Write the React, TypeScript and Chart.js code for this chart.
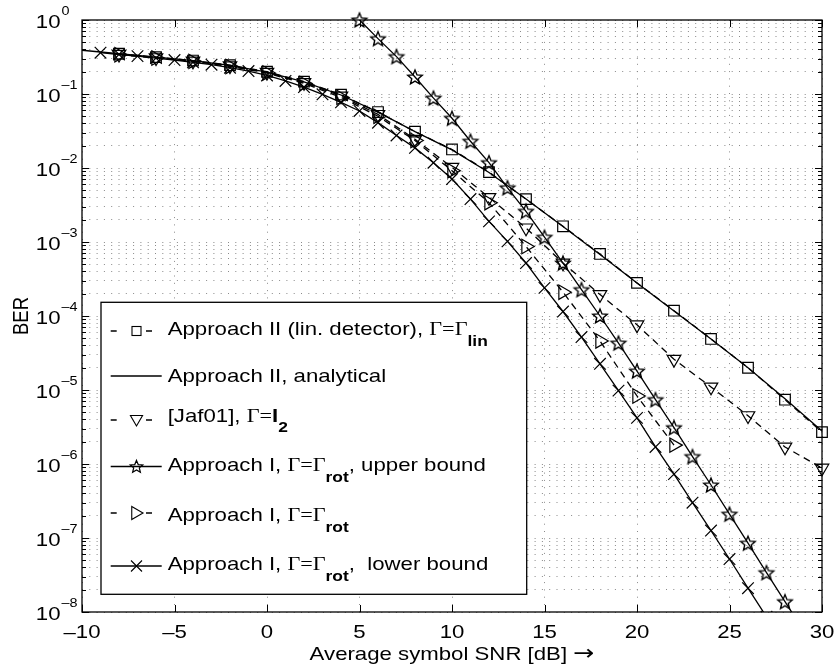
import React, { useEffect, useRef } from "react";
import { Chart, registerables } from "chart.js";

Chart.register(...registerables);

// ---------------- data ----------------
const SNR_EVEN = [-8, -6, -4, -2, 0, 2, 4, 6, 8, 10, 12, 14, 16, 18, 20, 22, 24, 26, 28, 30];
const BER_LIN_DETECTOR = [0.35, 0.315, 0.283, 0.245, 0.2, 0.147, 0.098, 0.057, 0.031, 0.0178, 0.0088, 0.0038, 0.00163, 0.00069, 0.00028, 0.000118, 0.000049, 0.00002, 0.0000074, 0.0000027];

const SNR_ANALYTICAL = [-10, -8, -6, -4, -2, 0, 2, 4, 6, 8, 10, 12, 14, 16, 18, 20, 22, 24, 26, 28, 30];
const BER_ANALYTICAL = [0.39, 0.35, 0.316, 0.282, 0.243, 0.198, 0.146, 0.097, 0.057, 0.031, 0.0176, 0.0087, 0.0038, 0.00162, 0.00068, 0.00028, 0.000117, 0.000049, 0.00002, 0.0000076, 0.0000028];

const BER_JAF01 = [0.345, 0.31, 0.279, 0.24, 0.196, 0.143, 0.094, 0.053, 0.0245, 0.0102, 0.004, 0.00155, 0.00052, 0.000195, 0.000076, 0.000026, 0.000011, 0.0000045, 0.0000017, 0.00000088];

const SNR_ROT = [-8, -6, -4, -2, 0, 2, 4, 6, 8, 10, 12, 14, 16, 18, 20, 22];
const BER_ROT = [0.34, 0.306, 0.276, 0.236, 0.192, 0.139, 0.09, 0.05, 0.0235, 0.0092, 0.0034, 0.00087, 0.00021, 0.000046, 0.0000083, 0.0000018];

const SNR_UPPER = [5, 6, 7, 8, 9, 10, 11, 12, 13, 14, 15, 16, 17, 18, 19, 20, 21, 22, 23, 24, 25, 26, 27, 28, 29];
const BER_UPPER = [1.0, 0.56, 0.32, 0.17, 0.088, 0.047, 0.023, 0.0118, 0.0054, 0.0026, 0.00116, 0.00052, 0.000227, 0.0001, 0.000043, 0.000018, 0.0000074, 0.0000031, 0.00000126, 0.00000052, 0.00000021, 0.000000085, 0.000000034, 0.0000000138, 0.0000000056];

const SNR_LOWER = [-9, -8, -7, -6, -5, -4, -3, -2, -1, 0, 1, 2, 3, 4, 5, 6, 7, 8, 9, 10, 11, 12, 13, 14, 15, 16, 17, 18, 19, 20, 21, 22, 23, 24, 25, 26, 27];
const BER_LOWER = [0.362, 0.342, 0.325, 0.306, 0.288, 0.268, 0.249, 0.227, 0.204, 0.178, 0.15, 0.124, 0.099, 0.077, 0.059, 0.041, 0.0275, 0.0187, 0.0118, 0.0071, 0.0038, 0.0019, 0.00102, 0.00052, 0.00024, 0.000115, 0.000052, 0.0000226, 0.0000098, 0.0000042, 0.0000017, 0.00000073, 0.0000003, 0.000000126, 0.000000052, 0.000000021, 0.0000000086];

const X_TICKS = [-10, -5, 0, 5, 10, 15, 20, 25, 30];
const X_TICK_LABELS = ["\u201310", "\u20135", "0", "5", "10", "15", "20", "25", "30"];
const Y_DECADES = [0, -1, -2, -3, -4, -5, -6, -7, -8];
const Y_MINOR_MULTIPLIERS = [2, 3, 4, 5, 6, 7, 8, 9];
const X_LABEL = "Average symbol SNR [dB] ";
const X_LABEL_ARROW = "\u2192";
const Y_LABEL = "BER";

// ---------------- styling helpers ----------------
const SX = 1.2; // horizontal text stretch of the reference
const SANS = '"Liberation Sans", Arial, Helvetica, sans-serif';
const SERIF = '"Liberation Serif", "Times New Roman", serif';
const F_MAIN = `18.5px ${SANS}`;
const F_SERIF = `18.5px ${SERIF}`;
const F_BOLD = `bold 18.5px ${SANS}`;
const F_SUB = `bold 14.5px ${SANS}`;
const F_EXP = `12px ${SANS}`;
const F_ARROW = `21px "DejaVu Sans", sans-serif`;

const pts = (xs: number[], ys: number[]) => xs.map((x, i) => ({ x, y: ys[i] }));

function starPath(g: CanvasRenderingContext2D, x: number, y: number, R: number) {
  g.beginPath();
  for (let i = 0; i < 10; i++) {
    const r = i % 2 === 0 ? R : R * 0.45;
    const a = -Math.PI / 2 + (i * Math.PI) / 5;
    const px = x + r * Math.cos(a);
    const py = y + r * Math.sin(a);
    if (i === 0) g.moveTo(px, py);
    else g.lineTo(px, py);
  }
  g.closePath();
}

function makeStar(R: number, lw: number): HTMLCanvasElement {
  const s = Math.ceil(2 * R + 2 * lw + 4);
  const c = document.createElement("canvas");
  c.width = s;
  c.height = s;
  const g = c.getContext("2d")!;
  starPath(g, s / 2, s / 2 + R * 0.09, R);
  g.lineWidth = lw;
  g.strokeStyle = "#000";
  g.lineJoin = "miter";
  g.stroke();
  return c;
}

function sText(ctx: CanvasRenderingContext2D, text: string, x: number, y: number, font: string, align: CanvasTextAlign = "left") {
  ctx.save();
  ctx.font = font;
  ctx.textAlign = align;
  ctx.textBaseline = "alphabetic";
  ctx.fillStyle = "#000";
  ctx.translate(x, y);
  ctx.scale(SX, 1);
  ctx.fillText(text, 0, 0);
  ctx.restore();
}

function textW(ctx: CanvasRenderingContext2D, text: string, font: string) {
  ctx.save();
  ctx.font = font;
  const w = ctx.measureText(text).width * SX;
  ctx.restore();
  return w;
}

type Run = { text: string; font: string; dy?: number };
function drawRuns(ctx: CanvasRenderingContext2D, parts: Run[], x: number, y: number) {
  let cx = x;
  for (const p of parts) {
    sText(ctx, p.text, cx, y + (p.dy || 0), p.font);
    cx += textW(ctx, p.text, p.font);
  }
}

function tri(ctx: CanvasRenderingContext2D, x: number, y: number, r: number, rotDeg: number) {
  let rad = (rotDeg * Math.PI) / 180;
  ctx.beginPath();
  for (let i = 0; i < 3; i++) {
    const px = x + Math.sin(rad) * r;
    const py = y - Math.cos(rad) * r;
    if (i === 0) ctx.moveTo(px, py);
    else ctx.lineTo(px, py);
    rad += (2 * Math.PI) / 3;
  }
  ctx.closePath();
  ctx.stroke();
}

const LEGEND_ROWS: { baseline: number; sampleY: number; dashed: boolean; marker: string; runs: Run[] }[] = [
  {
    baseline: 334.5, sampleY: 331, dashed: true, marker: "square",
    runs: [
      { text: "Approach II (lin. detector), ", font: F_MAIN },
      { text: "\u0393=\u0393", font: F_SERIF },
      { text: "lin", font: F_SUB, dy: 11 },
    ],
  },
  {
    baseline: 382, sampleY: 376, dashed: false, marker: "none",
    runs: [{ text: "Approach II, analytical", font: F_MAIN }],
  },
  {
    baseline: 421.7, sampleY: 420, dashed: true, marker: "down",
    runs: [
      { text: "[Jaf01], ", font: F_MAIN },
      { text: "\u0393=", font: F_SERIF },
      { text: "I", font: F_BOLD },
      { text: "2", font: F_SUB, dy: 10 },
    ],
  },
  {
    baseline: 470.7, sampleY: 466.5, dashed: false, marker: "star",
    runs: [
      { text: "Approach I, ", font: F_MAIN },
      { text: "\u0393=\u0393", font: F_SERIF },
      { text: "rot", font: F_SUB, dy: 11 },
      { text: ", upper bound", font: F_MAIN },
    ],
  },
  {
    baseline: 521, sampleY: 513, dashed: true, marker: "right",
    runs: [
      { text: "Approach I, ", font: F_MAIN },
      { text: "\u0393=\u0393", font: F_SERIF },
      { text: "rot", font: F_SUB, dy: 11 },
    ],
  },
  {
    baseline: 570, sampleY: 566, dashed: false, marker: "x",
    runs: [
      { text: "Approach I, ", font: F_MAIN },
      { text: "\u0393=\u0393", font: F_SERIF },
      { text: "rot", font: F_SUB, dy: 11 },
      { text: ",  lower bound", font: F_MAIN },
    ],
  },
];

const framePlugin = {
  id: "matlabFrame",
  afterDraw(chart: any) {
    const ctx: CanvasRenderingContext2D = chart.ctx;
    const { left, right, top, bottom } = chart.chartArea;
    const xs = chart.scales.x;
    const ys = chart.scales.y;
    ctx.save();

    // inner tick marks
    ctx.strokeStyle = "#000";
    ctx.lineWidth = 1;
    ctx.setLineDash([]);
    ctx.beginPath();
    for (const v of X_TICKS) {
      const px = Math.round(xs.getPixelForValue(v)) + 0.5;
      ctx.moveTo(px, bottom);
      ctx.lineTo(px, bottom - 7);
      ctx.moveTo(px, top);
      ctx.lineTo(px, top + 7);
    }
    for (const e of Y_DECADES) {
      const py = Math.round(ys.getPixelForValue(Math.pow(10, e))) + 0.5;
      ctx.moveTo(left, py);
      ctx.lineTo(left + 7, py);
      ctx.moveTo(right, py);
      ctx.lineTo(right - 7, py);
      if (e > -8) {
        for (const m of Y_MINOR_MULTIPLIERS) {
          const pm = Math.round(ys.getPixelForValue(m * Math.pow(10, e - 1))) + 0.5;
          ctx.moveTo(left, pm);
          ctx.lineTo(left + 4, pm);
          ctx.moveTo(right, pm);
          ctx.lineTo(right - 4, pm);
        }
      }
    }
    ctx.stroke();

    // axes box
    ctx.lineWidth = 1.3;
    ctx.strokeRect(left, top, right - left, bottom - top);

    // x tick labels
    X_TICKS.forEach((v, i) => {
      sText(ctx, X_TICK_LABELS[i], xs.getPixelForValue(v), 638.3, F_MAIN, "center");
    });
    // y tick labels 10^e
    for (const e of Y_DECADES) {
      const py = ys.getPixelForValue(Math.pow(10, e));
      sText(ctx, "10", 60.5, py + 7.5, F_MAIN, "right");
      sText(ctx, e === 0 ? "0" : "\u2013" + Math.abs(e), 61.5, py - 5, F_EXP, "left");
    }
    // axis titles
    const wLab = textW(ctx, X_LABEL, F_MAIN);
    const wArr = textW(ctx, X_LABEL_ARROW, F_ARROW);
    const xl = (left + right) / 2 - (wLab + wArr) / 2;
    sText(ctx, X_LABEL, xl, 660, F_MAIN, "left");
    sText(ctx, X_LABEL_ARROW, xl + wLab, 660, F_ARROW, "left");

    ctx.save();
    ctx.translate(28.3, (top + bottom) / 2);
    ctx.rotate(-Math.PI / 2);
    ctx.scale(1, SX);
    ctx.font = F_MAIN;
    ctx.textAlign = "center";
    ctx.fillStyle = "#000";
    ctx.fillText(Y_LABEL, 0, 0);
    ctx.restore();

    // legend
    const lx0 = 101, ly0 = 302.3, lx1 = 526.7, ly1 = 594.3;
    ctx.fillStyle = "#fff";
    ctx.fillRect(lx0, ly0, lx1 - lx0, ly1 - ly0);
    ctx.lineWidth = 1.3;
    ctx.strokeStyle = "#000";
    ctx.strokeRect(lx0, ly0, lx1 - lx0, ly1 - ly0);

    const sx0 = 110.7, sx1 = 161.7, mx = 136.5;
    for (const row of LEGEND_ROWS) {
      const y = row.sampleY;
      ctx.lineWidth = 1.3;
      ctx.setLineDash(row.dashed ? [6, 29.3] : []);
      ctx.beginPath();
      ctx.moveTo(sx0, y);
      ctx.lineTo(sx1, y);
      ctx.stroke();
      ctx.setLineDash([]);
      ctx.lineWidth = 1.1;
      if (row.marker === "square") {
        ctx.strokeRect(mx - 4.5, y - 4.5, 9, 9);
      } else if (row.marker === "down") {
        tri(ctx, mx, y - 1, 7, 180);
      } else if (row.marker === "right") {
        tri(ctx, mx - 1, y, 7.5, 90);
      } else if (row.marker === "star") {
        ctx.lineWidth = 1.2;
        starPath(ctx, mx, y + 0.5, 6.6);
        ctx.stroke();
      } else if (row.marker === "x") {
        ctx.beginPath();
        ctx.moveTo(mx - 5.5, y - 5.5);
        ctx.lineTo(mx + 5.5, y + 5.5);
        ctx.moveTo(mx + 5.5, y - 5.5);
        ctx.lineTo(mx - 5.5, y + 5.5);
        ctx.stroke();
      }
      drawRuns(ctx, row.runs, 167.7, row.baseline);
    }
    ctx.restore();
  },
};

export default function App() {
  const canvasRef = useRef<HTMLCanvasElement | null>(null);

  useEffect(() => {
    if (!canvasRef.current) return;
    const starImg = makeStar(7.6, 1.4);
    const clip = { left: 10, top: 10, right: 10, bottom: 0 };
    const common = {
      borderColor: "#000",
      borderWidth: 1.3,
      pointBorderColor: "#000",
      pointBackgroundColor: "rgba(0,0,0,0)",
      pointBorderWidth: 1.2,
      tension: 0,
      fill: false,
      clip,
    };
    const gridOpts = { color: "#8a8a8a", lineWidth: 1, drawTicks: false };
    const chart = new Chart(canvasRef.current, {
      type: "line",
      data: {
        datasets: [
          { ...common, label: "Approach II (lin. detector)", data: pts(SNR_EVEN, BER_LIN_DETECTOR), borderDash: [7, 5], pointStyle: "rect", pointRadius: 7.5 },
          { ...common, label: "Approach II, analytical", data: pts(SNR_ANALYTICAL, BER_ANALYTICAL), pointRadius: 0 },
          { ...common, label: "[Jaf01]", data: pts(SNR_EVEN, BER_JAF01), borderDash: [7, 5], pointStyle: "triangle", pointRotation: 180, pointRadius: 7.8 },
          { ...common, label: "Approach I, upper bound", data: pts(SNR_UPPER, BER_UPPER), pointStyle: starImg, pointRadius: 7.6 },
          { ...common, label: "Approach I", data: pts(SNR_ROT, BER_ROT), borderDash: [7, 5], pointStyle: "triangle", pointRotation: 90, pointRadius: 8.3 },
          { ...common, label: "Approach I, lower bound", data: pts(SNR_LOWER, BER_LOWER), pointStyle: "crossRot", pointRadius: 8.2 },
        ] as any,
      },
      options: {
        animation: false,
        responsive: false,
        maintainAspectRatio: false,
        events: [],
        layout: { padding: { left: 82, right: 15, top: 20, bottom: 55 } },
        plugins: { legend: { display: false }, tooltip: { enabled: false } },
        scales: {
          x: {
            type: "linear",
            min: -10,
            max: 30,
            ticks: { display: false, stepSize: 5 },
            grid: gridOpts,
            border: { display: false, dash: [1, 6.3] },
          },
          y: {
            type: "logarithmic",
            min: 1e-8,
            max: 1,
            ticks: { display: false },
            afterBuildTicks: (scale: any) => {
              const t: { value: number }[] = [];
              for (const e of Y_DECADES) {
                t.push({ value: Math.pow(10, e) });
                if (e > -8) for (const m of Y_MINOR_MULTIPLIERS) t.push({ value: m * Math.pow(10, e - 1) });
              }
              t.sort((a, b) => a.value - b.value);
              scale.ticks = t;
            },
            grid: gridOpts,
            border: { display: false, dash: [1, 6.3] },
          },
        },
      } as any,
      plugins: [framePlugin],
    });
    return () => chart.destroy();
  }, []);

  return (
    <div style={{ position: "fixed", left: 0, top: 0, width: 837, height: 667, background: "#fff" }}>
      <canvas ref={canvasRef} width={837} height={667} style={{ display: "block" }} />
    </div>
  );
}
